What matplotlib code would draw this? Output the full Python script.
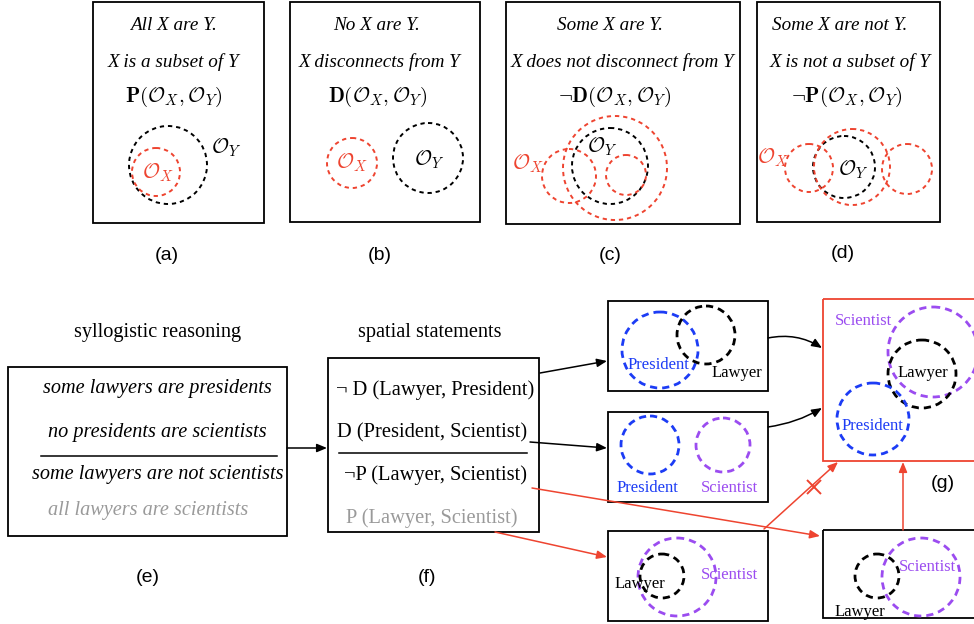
import matplotlib.pyplot as plt
from matplotlib.patches import Rectangle, Circle, FancyArrowPatch

plt.rcParams['mathtext.fontset'] = 'cm'

RED = '#ee4430'
BLUE = '#1c3cf5'
PURPLE = '#9b4cf0'
GRAY = '#9a9a9a'
SERIF = 'Liberation Serif'
SANS = 'Liberation Sans'

# boxes: left, top, right, bottom, edge colour
boxes = [
    (93, 2, 264, 223, 'k'), (290, 2, 480, 222, 'k'),
    (506, 2, 740, 224, 'k'), (757, 2, 940, 222, 'k'),
    (8, 367, 287, 536, 'k'), (328, 358, 539, 532, 'k'),
    (608, 301, 768, 391, 'k'), (608, 412, 768, 502, 'k'),
    (608, 531, 768, 621, 'k'), (823, 299, 990, 461, RED),
    (823, 530, 990, 618, 'k'),
]

# circles: cx, cy, r, colour
top_circles = [
    (168, 165, 39, 'k'), (156, 172, 24, RED),
    (352, 163, 25, RED), (428, 158, 35, 'k'),
    (615, 168, 52, RED), (610, 166, 38, 'k'), (569, 176, 27, RED), (626, 175, 20, RED),
    (844, 167, 31, 'k'), (852, 167, 38, RED), (809, 168, 24, RED), (907, 169, 25, RED),
]
bottom_circles = [
    (660, 350, 38, BLUE), (706, 335, 29, 'k'),
    (650, 445, 29, BLUE), (723, 445, 27, PURPLE),
    (677, 577, 39, PURPLE), (662, 576, 22, 'k'),
    (933, 352, 45, PURPLE), (922, 374, 34, 'k'), (873, 419, 36, BLUE),
    (877, 576, 22, 'k'), (921, 577, 39, PURPLE),
]

OX = r'$\mathcal{O}_X$'
OY = r'$\mathcal{O}_Y$'

# texts: x, y, string
top_texts = [
    (173, 26, 'All X are Y.'), (173, 62, 'X is a subset of Y'),
    (377, 26, 'No X are Y.'), (380, 62, 'X disconnects from Y'),
    (610, 26, 'Some X are Y.'), (622, 62, 'X does not disconnect from Y'),
    (840, 26, 'Some X are not Y.'), (850, 62, 'X is not a subset of Y'),
]
top_formulas = [
    (174, 97, r'$\mathbf{P}(\mathcal{O}_X,\mathcal{O}_Y)$'),
    (378, 97, r'$\mathbf{D}(\mathcal{O}_X,\mathcal{O}_Y)$'),
    (615, 97, r'$\neg\mathbf{D}(\mathcal{O}_X,\mathcal{O}_Y)$'),
    (847, 97, r'$\neg\mathbf{P}(\mathcal{O}_X,\mathcal{O}_Y)$'),
]
circle_labels = [
    (226, 148, OY, 'k'), (158, 173, OX, RED),
    (352, 163, OX, RED), (429, 160, OY, 'k'),
    (602, 147, OY, 'k'), (528, 164, OX, RED),
    (853, 170, OY, 'k'), (773, 158, OX, RED),
]
panel_labels = [
    (167, 256, '(a)'), (380, 256, '(b)'), (610, 256, '(c)'), (843, 253, '(d)'),
    (148, 578, '(e)'), (427, 578, '(f)'), (943, 483, '(g)'),
]
syllogism = [
    (157, 388, 'some lawyers are presidents', 'k'),
    (157, 432, 'no presidents are scientists', 'k'),
    (158, 475, 'some lawyers are not scientists', 'k'),
    (148, 511, 'all lawyers are scientists', GRAY),
]
statements = [
    (435, 390, '¬ D (Lawyer, President)', 'k'),
    (432, 433, 'D (President, Scientist)', 'k'),
    (435, 475, '¬P (Lawyer, Scientist)', 'k'),
    (432, 518, 'P (Lawyer, Scientist)', GRAY),
]
names = [
    (658, 365, 'President', BLUE), (737, 373, 'Lawyer', 'k'),
    (647, 488, 'President', BLUE), (730, 488, 'Scientist', PURPLE),
    (640, 584, 'Lawyer', 'k'), (730, 575, 'Scientist', PURPLE),
    (863, 321, 'Scientist', PURPLE), (923, 373, 'Lawyer', 'k'), (872, 426, 'President', BLUE),
    (928, 567, 'Scientist', PURPLE), (860, 612, 'Lawyer', 'k'),
]
# arrows: start, end, colour, curvature
arrows = [
    ((287, 448), (327, 448), 'k', 0), ((540, 373), (607, 361), 'k', 0),
    ((530, 442), (607, 448), 'k', 0), ((532, 488), (820, 536), RED, 0),
    ((495, 532), (607, 557), RED, 0), ((903, 530), (903, 462), RED, 0),
    ((764, 529), (838, 462), RED, 0),
    ((768, 338), (822, 348), 'k', -0.2), ((768, 427), (822, 408), 'k', 0.1),
]
separators = [((41, 277), 456), ((339, 527), 453)]
cross = (814, 487)

fig = plt.figure(figsize=(9.74, 6.24), dpi=100)
ax = fig.add_axes([0, 0, 1, 1])
ax.set_xlim(0, 974)
ax.set_ylim(624, 0)
ax.axis('off')

for x0, y0, x1, y1, c in boxes:
    ax.add_patch(Rectangle((x0, y0), x1 - x0, y1 - y0, fill=False, ec=c, lw=1.3))

for cx, cy, r, c in top_circles:
    ax.add_patch(Circle((cx, cy), r, fill=False, ec=c, lw=1.4, ls=(0, (2.2, 2.0))))
for cx, cy, r, c in bottom_circles:
    ax.add_patch(Circle((cx, cy), r, fill=False, ec=c, lw=2.0, ls=(0, (2.6, 1.8))))

for x, y, s in top_texts:
    ax.text(x, y, s, ha='center', va='center', fontsize=13.8, family=SERIF,
            style='italic')
for x, y, s in top_formulas:
    ax.text(x, y, s, ha='center', va='center', fontsize=15)
for x, y, s, c in circle_labels:
    ax.text(x, y, s, ha='center', va='center', fontsize=15, color=c)
for x, y, s in panel_labels:
    ax.text(x, y, s, ha='center', va='center', fontsize=14, family=SANS)

ax.text(158, 333, 'syllogistic reasoning', ha='center', va='center', fontsize=14.6, family=SERIF)
ax.text(430, 333, 'spatial statements', ha='center', va='center', fontsize=14.6, family=SERIF)
for x, y, s, c in syllogism:
    ax.text(x, y, s, ha='center', va='center', fontsize=14.6, family=SERIF,
            style='italic', color=c)
for x, y, s, c in statements:
    ax.text(x, y, s, ha='center', va='center', fontsize=14.8, family=SERIF, color=c)
for x, y, s, c in names:
    ax.text(x, y, s, ha='center', va='center', fontsize=12, family=SERIF, color=c)

for (x0, x1), y in separators:
    ax.plot([x0, x1], [y, y], color='k', lw=1.1)

for p0, p1, c, rad in arrows:
    ax.add_patch(FancyArrowPatch(p0, p1, arrowstyle='-|>,head_length=0.6,head_width=0.25',
                                 mutation_scale=10, color=c, lw=1.1,
                                 connectionstyle=f'arc3,rad={rad}', shrinkA=0, shrinkB=0))
ax.plot(*cross, marker='x', ms=10, mew=1.4, color=RED)

fig.savefig('out.png', dpi=100)
